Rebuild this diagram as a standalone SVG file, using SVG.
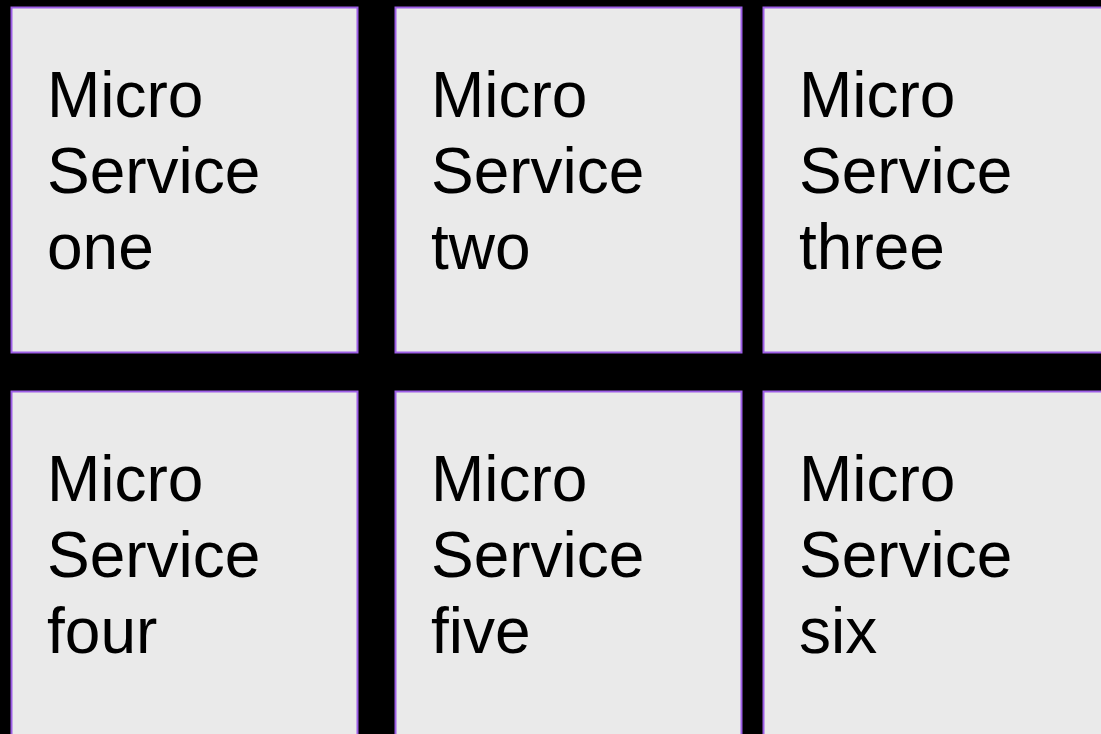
<svg xmlns="http://www.w3.org/2000/svg" width="1101" height="734" viewBox="0 0 1101 734">
<style>
.box{fill:#eaeaea;stroke:#9d5fe6;stroke-width:2}
.t{font-family:"Liberation Sans",Arial,sans-serif;font-size:64px;fill:#000}
</style>
<rect width="1101" height="734" fill="#000"/>
<g id="node-one">
<rect class="box" x="11.5" y="7.5" width="346" height="345"/>
<text class="t" x="47" y="117">Micro</text><text class="t" x="47" y="193">Service</text><text class="t" x="47" y="269">one</text>
</g>
<g id="node-two">
<rect class="box" x="395.5" y="7.5" width="346" height="345"/>
<text class="t" x="431" y="117">Micro</text><text class="t" x="431" y="193">Service</text><text class="t" x="431" y="269">two</text>
</g>
<g id="node-three">
<rect class="box" x="763.5" y="7.5" width="346" height="345"/>
<text class="t" x="799" y="117">Micro</text><text class="t" x="799" y="193">Service</text><text class="t" x="799" y="269">three</text>
</g>
<g id="node-four">
<rect class="box" x="11.5" y="391.5" width="346" height="345"/>
<text class="t" x="47" y="501">Micro</text><text class="t" x="47" y="577">Service</text><text class="t" x="47" y="653">four</text>
</g>
<g id="node-five">
<rect class="box" x="395.5" y="391.5" width="346" height="345"/>
<text class="t" x="431" y="501">Micro</text><text class="t" x="431" y="577">Service</text><text class="t" x="431" y="653">five</text>
</g>
<g id="node-six">
<rect class="box" x="763.5" y="391.5" width="346" height="345"/>
<text class="t" x="799" y="501">Micro</text><text class="t" x="799" y="577">Service</text><text class="t" x="799" y="653">six</text>
</g>
<g id="connectors"></g>
</svg>
